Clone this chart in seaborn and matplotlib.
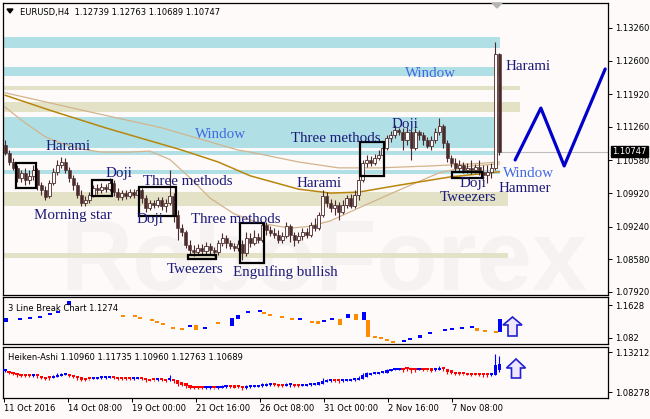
from __future__ import annotations

import matplotlib

matplotlib.use("Agg")

import matplotlib.pyplot as plt
import numpy as np
import pandas as pd
import seaborn as sns
from matplotlib.patches import Polygon, Rectangle

W, H = 650, 419
BG = "#FFFAFA"
CANDLE = "#4B2B2B"
NAVY = "#1A1A78"
WIN_BLUE = "#4169E1"
ZONE_COLORS = {"window": "#B0E0E6", "level": "#E3E1C6"}

# EURUSD H4 candles
opens = [
    1.1089, 1.1073, 1.1055, 1.1043, 1.1023, 1.1033, 1.1019, 1.1027, 1.1039, 1.1008,
    1.0998, 1.0986, 1.1012, 1.1035, 1.1049, 1.1055, 1.1039, 1.1023, 1.1008, 1.0988,
    1.0972, 1.0978, 1.0988, 1.1002, 1.0998, 1.1004, 1.1000, 1.1012, 1.0994, 1.0984,
    1.0992, 1.0986, 1.0994, 1.0988, 1.0998, 1.0982, 1.0962, 1.0972, 1.0968, 1.0978,
    1.0966, 1.0972, 1.0986, 1.0948, 1.0922, 1.0913, 1.0887, 1.0877, 1.0873, 1.0881,
    1.0875, 1.0885, 1.0877, 1.0873, 1.0891, 1.0901, 1.0891, 1.0885, 1.0881, 1.0889,
    1.0871, 1.0901, 1.0891, 1.0903, 1.0897, 1.0928, 1.0917, 1.0911, 1.0907, 1.0897,
    1.0905, 1.0926, 1.0907, 1.0897, 1.0905, 1.0913, 1.0907, 1.0928, 1.0922, 1.0948,
    1.0986, 1.0972, 1.0962, 1.0968, 1.0954, 1.0968, 1.0982, 1.0966, 1.0988, 1.1019,
    1.1053, 1.1059, 1.1053, 1.1063, 1.1069, 1.1083, 1.1103, 1.1109, 1.1120, 1.1115,
    1.1099, 1.1115, 1.1083, 1.1115, 1.1109, 1.1099, 1.1087, 1.1099, 1.1115, 1.1128,
    1.1093, 1.1063, 1.1053, 1.1043, 1.1049, 1.1039, 1.1043, 1.1039, 1.1045, 1.1035,
    1.1029, 1.1035, 1.1043, 1.12739,
]
highs = [
    1.1099, 1.1079, 1.1063, 1.1049, 1.1039, 1.1043, 1.1039, 1.1049, 1.1043, 1.1015,
    1.1006, 1.1019, 1.1043, 1.1059, 1.1065, 1.1063, 1.1045, 1.1029, 1.1015, 1.0998,
    1.0986, 1.0994, 1.1008, 1.1010, 1.1012, 1.1010, 1.1023, 1.1019, 1.1002, 1.0998,
    1.0998, 1.1000, 1.1000, 1.1004, 1.1002, 1.0988, 1.0978, 1.0978, 1.0984, 1.0984,
    1.0980, 1.1039, 1.0992, 1.0958, 1.0930, 1.0917, 1.0897, 1.0887, 1.0889, 1.0889,
    1.0893, 1.0891, 1.0883, 1.0897, 1.0911, 1.0907, 1.0897, 1.0891, 1.0897, 1.0897,
    1.0913, 1.0911, 1.0917, 1.0911, 1.0934, 1.0934, 1.0926, 1.0922, 1.0917, 1.0913,
    1.0934, 1.0930, 1.0913, 1.0913, 1.0922, 1.0922, 1.0934, 1.0942, 1.0954, 1.0998,
    1.0994, 1.0980, 1.0978, 1.0974, 1.0978, 1.0988, 1.0990, 1.0998, 1.1027, 1.1059,
    1.1069, 1.1067, 1.1071, 1.1079, 1.1089, 1.1109, 1.1117, 1.1130, 1.1124, 1.1124,
    1.1126, 1.1120, 1.1124, 1.1120, 1.1115, 1.1105, 1.1107, 1.1124, 1.1144, 1.1132,
    1.1099, 1.1069, 1.1063, 1.1059, 1.1055, 1.1053, 1.1059, 1.1051, 1.1059, 1.1049,
    1.1049, 1.1053, 1.1298, 1.12763,
]
lows = [
    1.1069, 1.1049, 1.1039, 1.1015, 1.1015, 1.1008, 1.1011, 1.1019, 1.0998, 1.0988,
    1.0978, 1.0982, 1.1008, 1.1029, 1.1043, 1.1033, 1.1015, 1.0998, 1.0982, 1.0966,
    1.0966, 1.0972, 1.0984, 1.0990, 1.0992, 1.0994, 1.0996, 1.0986, 1.0978, 1.0978,
    1.0980, 1.0982, 1.0982, 1.0984, 1.0972, 1.0954, 1.0958, 1.0962, 1.0964, 1.0958,
    1.0954, 1.0968, 1.0934, 1.0897, 1.0905, 1.0881, 1.0867, 1.0865, 1.0869, 1.0867,
    1.0869, 1.0869, 1.0865, 1.0867, 1.0885, 1.0881, 1.0879, 1.0875, 1.0875, 1.0857,
    1.0865, 1.0883, 1.0887, 1.0891, 1.0893, 1.0907, 1.0905, 1.0901, 1.0891, 1.0891,
    1.0901, 1.0893, 1.0885, 1.0891, 1.0897, 1.0901, 1.0903, 1.0915, 1.0917, 1.0944,
    1.0964, 1.0954, 1.0948, 1.0938, 1.0950, 1.0962, 1.0962, 1.0962, 1.0978, 1.1015,
    1.1045, 1.1047, 1.1049, 1.1059, 1.1065, 1.1079, 1.1095, 1.1103, 1.1109, 1.1079,
    1.1089, 1.1059, 1.1079, 1.1099, 1.1089, 1.1083, 1.1079, 1.1093, 1.1109, 1.1083,
    1.1055, 1.1045, 1.1035, 1.1035, 1.1033, 1.1033, 1.1031, 1.1033, 1.1029, 1.1019,
    1.1013, 1.1023, 1.1039, 1.10689,
]
closes = [
    1.1073, 1.1055, 1.1043, 1.1023, 1.1033, 1.1019, 1.1027, 1.1039, 1.1008, 1.0998,
    1.0984, 1.1012, 1.1035, 1.1049, 1.1055, 1.1039, 1.1023, 1.1008, 1.0988, 1.0972,
    1.0978, 1.0988, 1.1002, 1.0998, 1.1004, 1.1000, 1.1012, 1.0994, 1.0984, 1.0992,
    1.0986, 1.0994, 1.0988, 1.0998, 1.0982, 1.0962, 1.0972, 1.0968, 1.0978, 1.0966,
    1.0972, 1.0986, 1.0948, 1.0922, 1.0913, 1.0887, 1.0877, 1.0873, 1.0881, 1.0875,
    1.0885, 1.0877, 1.0873, 1.0891, 1.0901, 1.0891, 1.0885, 1.0881, 1.0889, 1.0871,
    1.0901, 1.0891, 1.0903, 1.0897, 1.0928, 1.0917, 1.0911, 1.0907, 1.0897, 1.0905,
    1.0926, 1.0907, 1.0897, 1.0905, 1.0913, 1.0907, 1.0928, 1.0922, 1.0948, 1.0986,
    1.0972, 1.0962, 1.0968, 1.0954, 1.0968, 1.0982, 1.0966, 1.0988, 1.1019, 1.1053,
    1.1059, 1.1053, 1.1063, 1.1069, 1.1083, 1.1103, 1.1109, 1.1120, 1.1115, 1.1099,
    1.1115, 1.1083, 1.1115, 1.1109, 1.1099, 1.1087, 1.1099, 1.1115, 1.1128, 1.1093,
    1.1063, 1.1053, 1.1043, 1.1049, 1.1039, 1.1043, 1.1039, 1.1045, 1.1035, 1.1029,
    1.1035, 1.1043, 1.1274, 1.10747,
]

# moving averages (bar index -> value)
fast_bars = [0, 5, 10, 14, 19, 24, 31, 36, 41, 46, 51, 57, 63, 71, 76, 81, 88, 98, 108, 116, 123]
fast_vals = [1.1166, 1.1134, 1.1106, 1.1093, 1.1081, 1.1075, 1.1075, 1.1077, 1.1060, 1.1023, 1.0982,
             1.0950, 1.0932, 1.0921, 1.0925, 1.0936, 1.0962, 1.0998, 1.1033, 1.1047, 1.1051]
gold_bars = [0, 11, 25, 44, 53, 61, 73, 81, 88, 98, 111, 123]
gold_vals = [1.1190, 1.1160, 1.1124, 1.1079, 1.1055, 1.1027, 1.1000, 1.0992, 1.0994, 1.1008, 1.1025, 1.1035]
med_bars = [0, 19, 39, 58, 61, 73, 83, 93, 106, 116, 123]
med_vals = [1.1195, 1.1160, 1.1124, 1.1079, 1.1075, 1.1055, 1.1043, 1.1043, 1.1047, 1.1051, 1.1055]

# forecast zigzag
fc_bars = [126.9, 133.3, 139.1, 149.3]
fc_vals = [1.1059, 1.1164, 1.1047, 1.1243]

# support / resistance zones
zone_lo = [1.1286, 1.1229, 1.1083, 1.1069, 1.1031, 1.1201, 1.1156, 1.0966, 1.0861]
zone_hi = [1.1308, 1.1247, 1.1146, 1.1077, 1.1039, 1.1209, 1.1176, 1.0994, 1.0871]
zone_end = [123.1, 123.1, 123.1, 123.1, 123.1, 128.1, 128.1, 125.1, 125.1]
zone_kind = ["window", "window", "window", "window", "window", "level", "level", "level", "level"]

# pattern boxes
box_x0 = [2.7, 21.6, 33.3, 45.5, 58.5, 88.3, 111.2]
box_x1 = [7.7, 26.6, 42.5, 52.5, 64.4, 94.3, 118.7]
box_lo = [1.1002, 1.0986, 1.0946, 1.0859, 1.0851, 1.1027, 1.1023]
box_hi = [1.1053, 1.1019, 1.1004, 1.0867, 1.0932, 1.1095, 1.1035]

# pattern labels: text, left px, baseline px, colour
labels = [
    ("Window", 405, 77, WIN_BLUE), ("Harami", 506, 70, NAVY),
    ("Window", 195, 138, WIN_BLUE), ("Three methods", 291, 142, NAVY),
    ("Harami", 46, 150, NAVY), ("Doji", 392, 128, NAVY),
    ("Doji", 106, 177, NAVY), ("Three methods", 143, 185, NAVY),
    ("Morning star", 34, 219, NAVY), ("Doji", 137, 223, NAVY),
    ("Three methods", 191, 223, NAVY), ("Harami", 297, 187, NAVY),
    ("Tweezers", 167, 273, NAVY), ("Engulfing bullish", 233, 276, NAVY),
    ("Doji", 460, 187, NAVY), ("Tweezers", 440, 201, NAVY),
    ("Window", 503, 177, WIN_BLUE), ("Hammer", 499, 192, NAVY),
]

# 3 Line Break panel
lb_bar = [0.2, 3.7, 6.2, 8.7, 11.2, 13.2, 16.0,
          29.4, 32.3, 33.6, 36.6, 37.8, 39.3, 41.8, 44.0,
          46.0, 47.6, 49.8, 53.0,
          56.5, 58.0, 60.5, 63.4,
          64.4, 66.0, 69.0, 71.4,
          73.4,
          76.4, 77.9,
          79.4, 81.3,
          83.3, 85.3, 87.3, 89.3,
          90.3, 92.0, 93.5, 95.0, 96.5,
          99.3, 100.7, 103.2, 105.7, 109.5, 111.2, 113.7, 116.2,
          117.4, 119.4, 122.1,
          123.1]
lb_hi = [1.1309, 1.1285, 1.1309, 1.1334, 1.1407, 1.1456, 1.1726,
         1.1358, 1.1358, 1.1309, 1.1260, 1.1211, 1.1162, 1.1064, 1.1040,
         1.1113, 1.1138, 1.1064, 1.1187,
         1.1309, 1.1383, 1.1456, 1.1481,
         1.1432, 1.1383, 1.1334, 1.1285,
         1.1285,
         1.1211, 1.1199,
         1.1236, 1.1285,
         1.1285, 1.1407, 1.1407, 1.1456,
         1.1260, 1.0844, 1.0819, 1.0770, 1.0721,
         1.0746, 1.0795, 1.0893, 1.0942, 1.1015, 1.1040, 1.1064, 1.1089,
         1.1064, 1.0991, 1.0966,
         1.1285]
lb_lo = [1.1211, 1.1285, 1.1309, 1.1334, 1.1407, 1.1456, 1.1628,
         1.1358, 1.1358, 1.1309, 1.1260, 1.1211, 1.1162, 1.1064, 1.1040,
         1.1113, 1.1015, 1.1064, 1.1187,
         1.1113, 1.1285, 1.1456, 1.1481,
         1.1432, 1.1383, 1.1334, 1.1285,
         1.1285,
         1.1211, 1.1199,
         1.1236, 1.1285,
         1.1138, 1.1309, 1.1260, 1.1260,
         1.0844, 1.0844, 1.0819, 1.0770, 1.0721,
         1.0746, 1.0795, 1.0819, 1.0942, 1.1015, 1.1040, 1.1064, 1.1089,
         1.0991, 1.0991, 1.0966,
         1.0966]
lb_dir = ["b", "b", "b", "b", "b", "b", "b",
          "o", "o", "o", "o", "o", "o", "o", "o",
          "b", "o", "b", "o",
          "b", "b", "b", "b",
          "o", "o", "o", "o",
          "b",
          "o", "o",
          "b", "b",
          "o", "b", "o", "b",
          "o", "o", "o", "o", "o",
          "b", "b", "b", "b", "b", "b", "b", "b",
          "o", "o", "o",
          "b"]

main_ticks = [1.13260, 1.12600, 1.11920, 1.11260, 1.10580, 1.09920, 1.09240, 1.08580, 1.07920]
lb_ticks = [1.1628, 1.082]
lb_tick_labels = ["1.1628", "1.082"]
ha_ticks = [1.13212, 1.08278]
date_pos = [-0.25, 15.7, 31.6, 47.5, 63.4, 79.4, 95.3, 111.2]
date_labels = ["11 Oct 2016", "14 Oct 08:00", "19 Oct 00:00", "21 Oct 16:00",
               "26 Oct 08:00", "31 Oct 00:00", "2 Nov 16:00", "7 Nov 08:00"]


def px_rect(top, bottom, left=3, right=608):
    return [left / W, 1 - bottom / H, (right - left) / W, (bottom - top) / H]


def fig_pts(points):
    return [(x / W, 1 - y / H) for x, y in points]


def up_arrow(cx, top, bottom, half_head, half_shaft, head_len):
    base = top + head_len
    return fig_pts([(cx, top), (cx + half_head, base), (cx + half_shaft, base),
                    (cx + half_shaft, bottom), (cx - half_shaft, bottom),
                    (cx - half_shaft, base), (cx - half_head, base)])


sns.set_theme(style="white")
plt.rcParams["font.family"] = ["DejaVu Sans"]

fig = plt.figure(figsize=(6.5, 4.19), dpi=100, facecolor=BG)
ax = fig.add_axes(px_rect(3, 295))
ax2 = fig.add_axes(px_rect(297, 344))
ax3 = fig.add_axes(px_rect(347, 398))

for a in (ax, ax2, ax3):
    a.set_facecolor("none")
    a.set_xlim(-0.5, 150)
    for s in a.spines.values():
        s.set_color("black")
        s.set_linewidth(0.9)
    a.yaxis.tick_right()
    a.tick_params(axis="y", right=True, left=False, labelright=True, labelleft=False,
                  direction="out", length=3, width=0.7, pad=2, labelsize=6, colors="black")
    a.tick_params(axis="x", bottom=False, labelbottom=False)
    a.grid(False)

ax.set_ylim(1.07859, 1.13765)
ax2.set_ylim(1.06729, 1.18241)
ax3.set_ylim(1.07538, 1.13829)

# faint watermark
ax.text(60 / W, 1 - 290 / H, "RoboForex", transform=fig.transFigure, fontsize=72,
        family="Liberation Sans", weight="bold", color="#F6F2F2", zorder=0.2, clip_on=True)

# zones
for lo, hi, end, kind in zip(zone_lo, zone_hi, zone_end, zone_kind):
    ax.add_patch(Rectangle((-0.5, lo), end + 0.5, hi - lo, color=ZONE_COLORS[kind], lw=0, zorder=1))

# moving averages
sns.lineplot(x=med_bars, y=med_vals, ax=ax, color="#D2B48C", linewidth=0.9, sort=False, zorder=2.5)
sns.lineplot(x=fast_bars, y=fast_vals, ax=ax, color="#D2B48C", linewidth=0.9, sort=False, zorder=2.5)
sns.lineplot(x=gold_bars, y=gold_vals, ax=ax, color="#B8860B", linewidth=1.1, sort=False, zorder=2.6)

# candles
df = pd.DataFrame({"open": opens, "high": highs, "low": lows, "close": closes})
df["bar"] = np.arange(len(df))
bull = df[df["close"] >= df["open"]]
bear = df[df["close"] < df["open"]]
ax.vlines(df["bar"], df["low"], df["high"], color=CANDLE, lw=0.8, zorder=3)
ax.bar(bear["bar"], bear["open"] - bear["close"], bottom=bear["close"], width=0.75,
       color=CANDLE, edgecolor=CANDLE, lw=0.4, zorder=4)
ax.bar(bull["bar"], bull["close"] - bull["open"], bottom=bull["open"], width=0.75,
       color=BG, edgecolor=CANDLE, lw=0.6, zorder=4)

# pattern boxes
for x0, x1, lo, hi in zip(box_x0, box_x1, box_lo, box_hi):
    ax.add_patch(Rectangle((x0, lo), x1 - x0, hi - lo, fill=False, ec="black", lw=1.6, zorder=5))

# bid line and forecast
last = closes[-1]
ax.plot([len(closes) - 1, 150], [last, last], color="#BDBDBD", lw=0.8, zorder=2)
sns.lineplot(x=fc_bars, y=fc_vals, ax=ax, color="#0000CD", linewidth=2.3, sort=False, zorder=6)

ax.set_yticks(main_ticks)
ax.set_yticklabels([f"{t:.5f}" for t in main_ticks])

# 3 Line Break
lb = pd.DataFrame({"bar": lb_bar, "hi": lb_hi, "lo": lb_lo, "dir": lb_dir})
thin = 0.006
lb["height"] = np.maximum(lb["hi"] - lb["lo"], thin)
lb["bottom"] = np.where(lb["hi"] - lb["lo"] < thin, lb["hi"] - thin / 2, lb["lo"])
lb_colors = lb["dir"].map({"b": "#0000FF", "o": "#FF8C00"})
ax2.bar(lb["bar"], lb["height"], bottom=lb["bottom"], width=1.0, color=lb_colors, lw=0, zorder=3)
ax2.set_yticks(lb_ticks)
ax2.set_yticklabels(lb_tick_labels)

# Heiken-Ashi
ha_close = (df["open"] + df["high"] + df["low"] + df["close"]).to_numpy() / 4
ha_open = np.empty(len(df))
ha_open[0] = (opens[0] + closes[0]) / 2
for i in range(1, len(df)):
    ha_open[i] = (ha_open[i - 1] + ha_close[i - 1]) / 2
ha_high = np.maximum.reduce([df["high"].to_numpy(), ha_open, ha_close])
ha_low = np.minimum.reduce([df["low"].to_numpy(), ha_open, ha_close])
ha_colors = np.where(ha_close >= ha_open, "#0000FF", "#FF0000")
ax3.vlines(df["bar"], ha_low, ha_high, colors=ha_colors, lw=0.8, zorder=3)
ax3.bar(df["bar"], np.maximum(np.abs(ha_close - ha_open), 0.0025),
        bottom=np.minimum(ha_open, ha_close), width=0.8, color=ha_colors, lw=0, zorder=4)
ax3.set_yticks(ha_ticks)
ax3.set_yticklabels([f"{t:.5f}" for t in ha_ticks])

ax3.tick_params(axis="x", bottom=True, labelbottom=True, direction="out", length=3,
                width=0.7, pad=1.5, labelsize=6, colors="black")
ax3.set_xticks(date_pos)
ax3.set_xticklabels(date_labels)
for lbl in ax3.get_xticklabels():
    lbl.set_ha("left")

# text annotations
for text, x, y, color in labels:
    fig.text(x / W, 1 - y / H, text, family="Liberation Serif", fontsize=10.8,
             color=color, ha="left", va="baseline", zorder=7)

fig.text(20 / W, 1 - 15 / H, "EURUSD,H4  1.12739 1.12763 1.10689 1.10747",
         fontsize=6, color="black", va="baseline")
fig.patches.append(Polygon(fig_pts([(7, 9), (13, 9), (10, 13)]), closed=True,
                           color="black", transform=fig.transFigure))
fig.patches.append(Polygon(fig_pts([(492, 3), (502, 3), (497, 8)]), closed=True,
                           color="#B4B4B4", transform=fig.transFigure))
fig.text(8 / W, 1 - 311 / H, "3 Line Break Chart 1.1274", fontsize=6, color="black", va="baseline")
fig.text(8 / W, 1 - 360 / H, "Heiken-Ashi 1.10960 1.11735 1.10960 1.12763 1.10689",
         fontsize=6, color="black", va="baseline")
fig.text(612 / W, 1 - 151.5 / H, f"{last:.5f}", fontsize=6, color="white", ha="left", va="center",
         bbox=dict(boxstyle="square,pad=0.15", fc="black", ec="black"))

for arrow in (up_arrow(512.5, 317, 336, 9.5, 4.5, 8), up_arrow(516, 359, 378, 9.5, 4.5, 9)):
    fig.patches.append(Polygon(arrow, closed=True, fc="#EFE6FF", ec="#2020D0", lw=1.2,
                               transform=fig.transFigure, zorder=8))

fig.savefig("out.png", dpi=100, facecolor=BG)
